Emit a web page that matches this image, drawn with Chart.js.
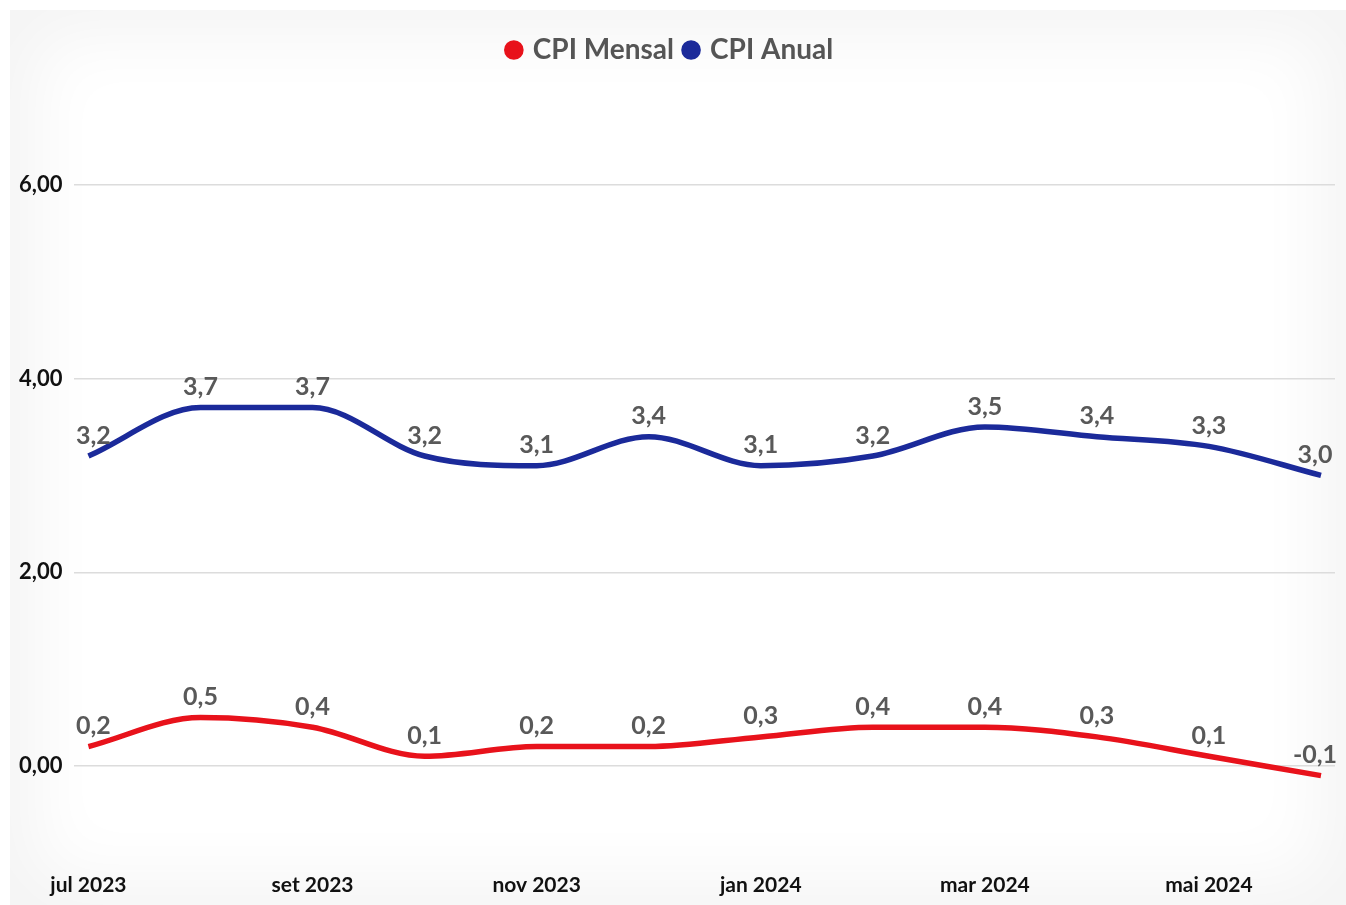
<!DOCTYPE html>
<html>
<head>
<meta charset="utf-8">
<script src="https://cdn.jsdelivr.net/npm/chart.js@4"></script>
<style>
  html, body { margin: 0; padding: 0; background: #fff; }
  .frame {
    position: absolute; left: 10px; top: 10px; width: 1336px; height: 895px;
    background: #fff;
    box-shadow: inset 0 0 70px 25px #f4f4f4;
  }
  canvas { position: absolute; left: 0; top: 0; }
</style>
</head>
<body>
<div class="frame"></div>
<canvas id="cpi_chart" width="1346" height="905"></canvas>
<script>
const months = ["jul 2023", "ago 2023", "set 2023", "out 2023", "nov 2023", "dez 2023",
                "jan 2024", "fev 2024", "mar 2024", "abr 2024", "mai 2024", "jun 2024"];
const cpiMensal = [0.2, 0.5, 0.4, 0.1, 0.2, 0.2, 0.3, 0.4, 0.4, 0.3, 0.1, -0.1];
const cpiAnual = [3.2, 3.7, 3.7, 3.2, 3.1, 3.4, 3.1, 3.2, 3.5, 3.4, 3.3, 3.0];
const yTicks = [0, 2, 4, 6];
const xTicks = [0, 2, 4, 6, 8, 10];

const fontName = "Lato, 'Open Sans', sans-serif";

function toPoints(arr) {
    return arr.map(function(v, i){ return {x: i, y: v}; });
}

// rotulos de valor em cima de cada ponto
const valueLabels = {
    id: "valueLabels",
    afterDatasetsDraw(chart) {
        const ctx = chart.ctx;
        ctx.save();
        ctx.font = "bold 25px " + fontName;
        ctx.fillStyle = "#595959";
        ctx.textAlign = "center";
        ctx.textBaseline = "bottom";
        chart.data.datasets.forEach(function(ds, di){
            chart.getDatasetMeta(di).data.forEach(function(pt, i){
                let txt = ds.data[i].y.toFixed(1).replace(".", ",");
                let dx = 0;
                if (i == 0) dx = 5;
                if (i == ds.data.length - 1) dx = -6;
                ctx.fillText(txt, pt.x + dx, pt.y - 8);
            });
        });
        ctx.restore();
    }
};

// espaço extra abaixo da legenda
const legendSpace = {
    id: "legendSpace",
    beforeInit(chart) {
        const origFit = chart.legend.fit;
        chart.legend.fit = function() {
            origFit.bind(chart.legend)();
            this.height += 14;
        };
    }
};

Chart.defaults.font.family = fontName;

new Chart(document.getElementById("cpi_chart"), {
    type: "line",
    data: {
        datasets: [
            {
                label: "CPI Mensal",
                data: toPoints(cpiMensal),
                borderColor: "#e8121b",
                backgroundColor: "#e8121b",
                borderWidth: 5.5,
                pointRadius: 0,
                cubicInterpolationMode: "monotone"
            },
            {
                label: "CPI Anual",
                data: toPoints(cpiAnual),
                borderColor: "#1b2a9a",
                backgroundColor: "#1b2a9a",
                borderWidth: 5.5,
                pointRadius: 0,
                cubicInterpolationMode: "monotone"
            }
        ]
    },
    options: {
        responsive: false,
        animation: false,
        layout: { padding: { left: 7, right: 11, top: 24, bottom: 5 } },
        plugins: {
            legend: {
                position: "top",
                labels: {
                    usePointStyle: true,
                    pointStyle: "circle",
                    boxWidth: 10,
                    boxHeight: 10,
                    padding: 12,
                    color: "#555",
                    font: { size: 28, weight: "bold" }
                }
            },
            tooltip: { enabled: false }
        },
        scales: {
            x: {
                type: "linear",
                min: -0.125,
                max: 11.125,
                grid: { display: false },
                border: { display: false },
                afterBuildTicks: function(axis){
                    axis.ticks = xTicks.map(function(v){ return {value: v}; });
                },
                ticks: {
                    autoSkip: false,
                    maxRotation: 0,
                    padding: 2,
                    color: "#111",
                    font: { size: 21, weight: "bold" },
                    callback: function(v){ return months[v]; }
                }
            },
            y: {
                min: -1,
                max: 7,
                border: { display: false },
                grid: { color: "#dcdcdc", lineWidth: 1.5, drawTicks: false },
                afterBuildTicks: function(axis){
                    axis.ticks = yTicks.map(function(v){ return {value: v}; });
                },
                ticks: {
                    padding: 12,
                    color: "#111",
                    font: { size: 22, weight: "bold" },
                    callback: function(v){ return v.toFixed(2).replace(".", ","); }
                }
            }
        }
    },
    plugins: [valueLabels, legendSpace]
});
</script>
</body>
</html>
